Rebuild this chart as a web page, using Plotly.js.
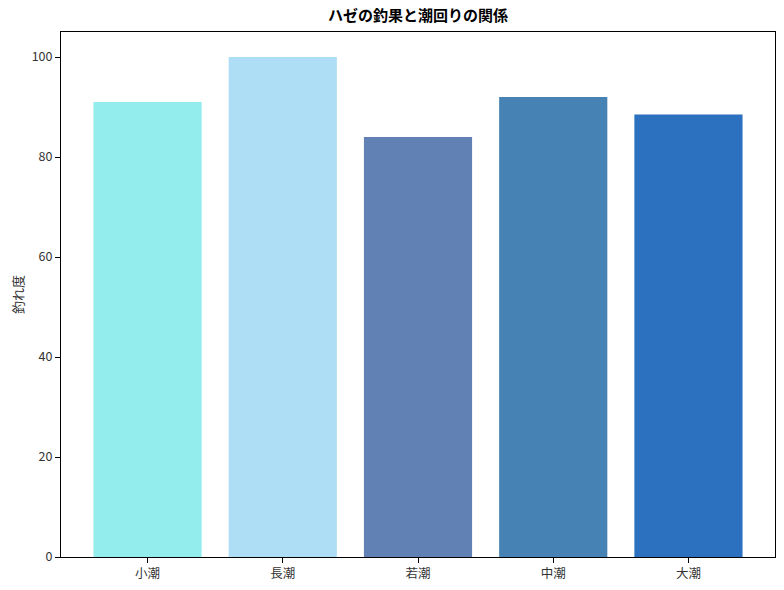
<!DOCTYPE html>
<html>
<head>
<meta charset="utf-8">
<script src="https://cdn.plot.ly/plotly-3.0.1.min.js"></script>
<style>
  html, body { margin: 0; padding: 0; background: #fff; }
  #chart { width: 784px; height: 590px; }
</style>
</head>
<body>
<div id="chart"></div>
<script>
  // tide phases and how well the goby bite
  const tides = ['小潮', '長潮', '若潮', '中潮', '大潮'];
  const biteScore = [91, 100, 84, 92, 88.5];
  const barColors = ['#92EDEC', '#AEDEF5', '#6180B3', '#4682B4', '#2C70C0'];
  const yTicks = [0, 20, 40, 60, 80, 100];

  const font = '"Noto Sans CJK JP", "DejaVu Sans", sans-serif';

  const trace = {
    type: 'bar',
    x: tides,
    y: biteScore,
    width: 0.8,
    marker: { color: barColors, line: { width: 0 } },
    hoverinfo: 'x+y',
  };

  const layout = {
    width: 784,
    height: 590,
    paper_bgcolor: '#fff',
    plot_bgcolor: '#fff',
    font: { family: font, size: 13, color: '#333' },
    margin: { l: 61, r: 9, t: 32, b: 33 },
    showlegend: false,
    bargap: 0.2,
    title: {
      text: '<b>ハゼの釣果と潮回りの関係</b>',
      font: { family: font, size: 15, color: '#000' },
      x: 0.5,
      xref: 'paper',
      y: 1,
      yref: 'container',
      yanchor: 'top',
      pad: { t: 10 },
    },
    xaxis: {
      range: [-0.64, 4.64],
      showline: true,
      linecolor: '#000',
      linewidth: 1,
      mirror: true,
      ticks: 'outside',
      ticklen: 5,
      tickcolor: '#000',
      showgrid: false,
      zeroline: false,
      tickfont: { size: 12.5, color: '#333' },
    },
    yaxis: {
      range: [0, 105],
      tickvals: yTicks,
      showline: true,
      linecolor: '#000',
      linewidth: 1,
      mirror: true,
      ticks: 'outside',
      ticklen: 5,
      tickcolor: '#000',
      showgrid: false,
      zeroline: false,
      tickfont: { size: 12.5, color: '#333' },
      title: { text: '釣れ度', font: { size: 13, color: '#333' }, standoff: 5 },
    },
  };

  Plotly.newPlot('chart', [trace], layout, { displayModeBar: false, staticPlot: true });
</script>
</body>
</html>
